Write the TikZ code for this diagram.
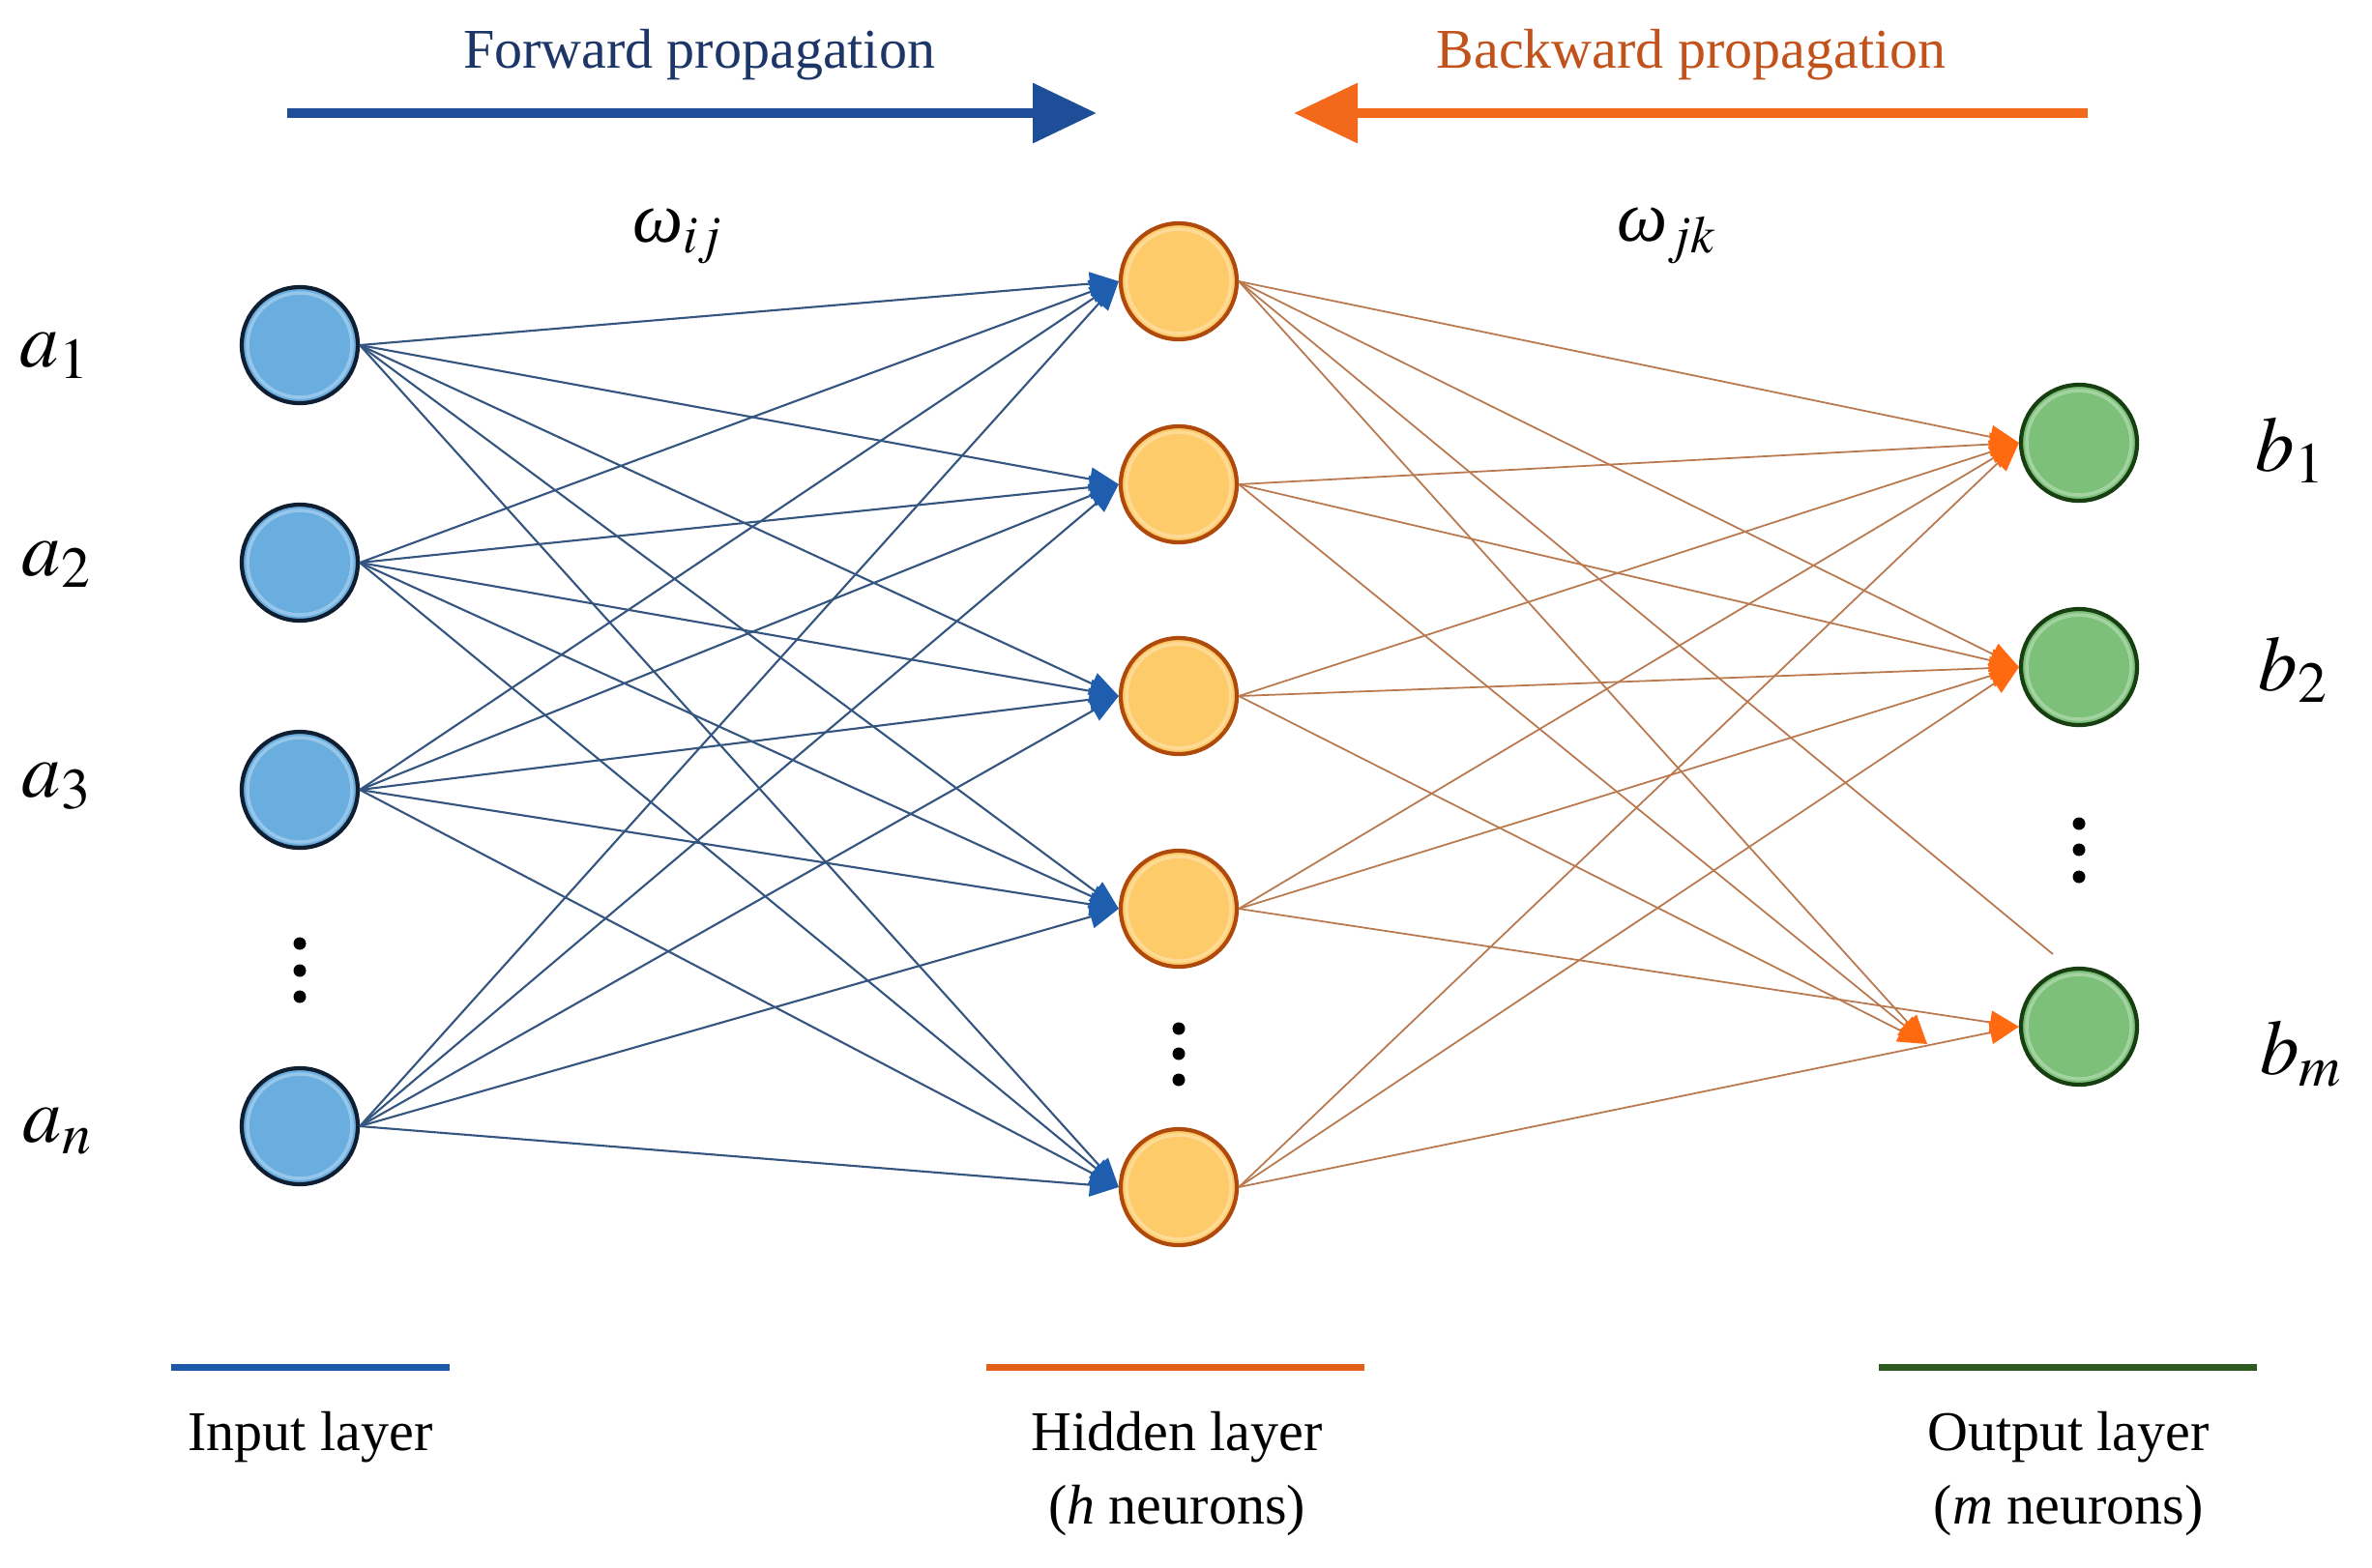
\documentclass[tikz,border=0pt]{standalone}
\usepackage{mathptmx}
\usepackage{fontspec}
\setmainfont{Liberation Serif}
\usetikzlibrary{arrows.meta}

\definecolor{infill}{HTML}{6AAEE0}
\definecolor{indraw}{HTML}{0F1E30}
\definecolor{hidfill}{HTML}{FDCB6A}
\definecolor{hiddraw}{HTML}{B04A0C}
\definecolor{outfill}{HTML}{7DC07A}
\definecolor{outdraw}{HTML}{173F12}
\definecolor{fwdline}{HTML}{34557F}
\definecolor{fwdtip}{HTML}{1F5DAE}
\definecolor{bwdline}{HTML}{B9784E}
\definecolor{bwdtip}{HTML}{FF6A10}
\definecolor{fwdtext}{HTML}{1C3767}
\definecolor{bwdtext}{HTML}{C2521C}
\definecolor{fwdbar}{HTML}{1F4E98}
\definecolor{bwdbar}{HTML}{F2691B}
\definecolor{legblue}{HTML}{1F5AA8}
\definecolor{legorange}{HTML}{E2601A}
\definecolor{leggreen}{HTML}{2D5A1F}

\tikzset{
  neuron/.style={circle,minimum size=1.2cm,inner sep=0pt,line width=1.2pt,
    path picture={\draw[white,opacity=0.3,line width=1pt] (path picture bounding box.center) circle (0.54cm);}},
  inneuron/.style={neuron,draw=indraw,fill=infill},
  hidneuron/.style={neuron,draw=hiddraw,fill=hidfill},
  outneuron/.style={neuron,draw=outdraw,fill=outfill},
  fwdedge/.style={draw=fwdline,line width=0.6pt,-{Triangle[length=0.3cm,width=0.24cm,color=fwdtip]}},
  bwdedge/.style={draw=bwdline,line width=0.5pt,-{Triangle[length=0.3cm,width=0.24cm,color=bwdtip]}},
  bwdplain/.style={draw=bwdline,line width=0.5pt},
  lbl/.style={font=\fontsize{16.5}{20}\selectfont},
  varlbl/.style={font=\fontsize{23}{26}\selectfont},
  wlbl/.style={font=\fontsize{21}{24}\selectfont},
  legline/.style={line width=0.07cm},
}

\begin{document}
\begin{tikzpicture}
    \fill[white] (0,0) rectangle (24.53,-16.21);
    \useasboundingbox (0,0) rectangle (24.53,-16.21);

    \node[lbl,text=fwdtext] (fwdtitle) at (7.23,-0.57) {Forward propagation};
    \node[lbl,text=bwdtext] (bwdtitle) at (17.49,-0.57) {Backward propagation};
    \coordinate (fwdL) at (2.97,-1.17);
    \coordinate (fwdR) at (11.34,-1.17);
    \coordinate (bwdR) at (21.59,-1.17);
    \coordinate (bwdL) at (13.38,-1.17);
    \draw[fwdbar,line width=0.1cm,-{Triangle[length=0.66cm,width=0.6cm]}] (fwdL) -- (fwdR);
    \draw[bwdbar,line width=0.1cm,-{Triangle[length=0.66cm,width=0.6cm]}] (bwdR) -- (bwdL);

    \node[inneuron] (i1) at (3.10,-3.57) {};
    \node[inneuron] (i2) at (3.10,-5.82) {};
    \node[inneuron] (i3) at (3.10,-8.17) {};
    \node[inneuron] (i4) at (3.10,-11.65) {};
    \node[hidneuron] (h1) at (12.19,-2.91) {};
    \node[hidneuron] (h2) at (12.19,-5.01) {};
    \node[hidneuron] (h3) at (12.19,-7.20) {};
    \node[hidneuron] (h4) at (12.19,-9.40) {};
    \node[hidneuron] (h5) at (12.19,-12.28) {};
    \node[outneuron] (o1) at (21.50,-4.58) {};
    \node[outneuron] (o2) at (21.50,-6.90) {};
    \node[outneuron] (o3) at (21.50,-10.62) {};
    \coordinate (ghost) at (19.93,-10.80);
    \coordinate (cut) at (21.23,-9.87);

    \foreach \i in {1,...,4}
        \foreach \j in {1,...,5}
            \draw[fwdedge] (i\i.east) -- (h\j.west);
    \foreach \j in {1,...,5}
        \foreach \k in {1,2}
            \draw[bwdedge] (h\j.east) -- (o\k.west);
    \foreach \j in {1,2,3}
        \draw[bwdedge] (h\j.east) -- (ghost);
    \foreach \j in {4,5}
        \draw[bwdedge] (h\j.east) -- (o3.west);
    \draw[bwdplain] (h1.east) -- (cut);

    \foreach \y in {-9.76,-10.04,-10.31}
        \fill (3.10,\y) circle (0.065);
    \foreach \y in {-10.64,-10.90,-11.17}
        \fill (12.19,\y) circle (0.065);
    \foreach \y in {-8.52,-8.79,-9.07}
        \fill (21.50,\y) circle (0.065);

    \node[varlbl] (la1) at (0.57,-3.68) {$a_1$};
    \node[varlbl] (la2) at (0.59,-5.84) {$a_2$};
    \node[varlbl] (la3) at (0.59,-8.13) {$a_3$};
    \node[varlbl] (lan) at (0.60,-11.70) {$a_n$};
    \node[varlbl] (lb1) at (23.69,-4.66) {$b_1$};
    \node[varlbl] (lb2) at (23.72,-6.93) {$b_2$};
    \node[varlbl] (lbm) at (23.80,-10.90) {$b_m$};
    \node[wlbl] (wij) at (7.01,-2.44) {\textit{ω}$_{ij}$};
    \node[wlbl] (wjk) at (17.24,-2.44) {\textit{ω}$_{jk}$};

    \coordinate (inL) at (1.77,-14.14);
    \coordinate (inR) at (4.65,-14.14);
    \coordinate (hidL) at (10.20,-14.14);
    \coordinate (hidR) at (14.11,-14.14);
    \coordinate (outL) at (19.43,-14.14);
    \coordinate (outR) at (23.34,-14.14);
    \draw[legline,legblue] (inL) -- (inR);
    \draw[legline,legorange] (hidL) -- (hidR);
    \draw[legline,leggreen] (outL) -- (outR);
    \node[lbl] (inname) at (3.21,-14.87) {Input layer};
    \node[lbl] (hidname) at (12.17,-14.87) {Hidden layer};
    \node[lbl] (hidcount) at (12.17,-15.63) {(\textit{h} neurons)};
    \node[lbl] (outname) at (21.39,-14.87) {Output layer};
    \node[lbl] (outcount) at (21.39,-15.63) {(\textit{m} neurons)};
\end{tikzpicture}
\end{document}
